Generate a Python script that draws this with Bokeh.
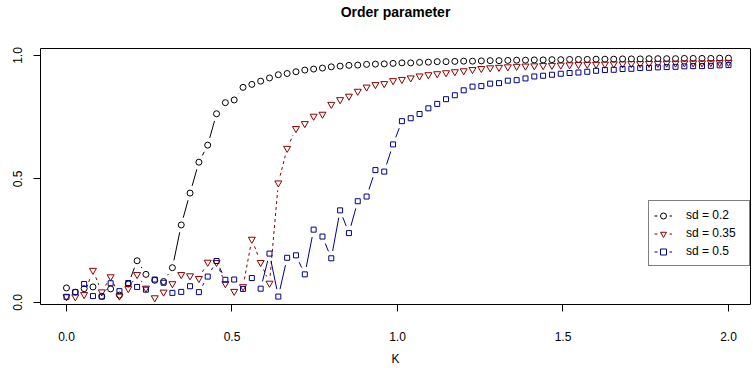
import math
import numpy as np
from bokeh.plotting import figure
from bokeh.models import Range1d, FixedTicker, Legend, LegendItem, ColumnDataSource, Title
from bokeh.embed import file_html
from bokeh.resources import INLINE

# ---------------- data ----------------
K = np.linspace(0, 2, 76)

sd_02 = [0.059, 0.042, 0.056, 0.063, 0.025, 0.055, 0.030, 0.075, 0.169, 0.114,
         0.090, 0.085, 0.141, 0.314, 0.443, 0.568, 0.637, 0.764, 0.809, 0.820,
         0.871, 0.883, 0.896, 0.909, 0.922, 0.927, 0.934, 0.941, 0.945, 0.949,
         0.954, 0.957, 0.960, 0.961, 0.964, 0.965, 0.966, 0.968, 0.970, 0.970,
         0.972, 0.973, 0.975, 0.975, 0.976, 0.977, 0.977, 0.978, 0.979, 0.979,
         0.980, 0.981, 0.981, 0.982, 0.982, 0.983, 0.983, 0.984, 0.984, 0.984,
         0.985, 0.985, 0.985, 0.986, 0.986, 0.986, 0.987, 0.987, 0.987, 0.987,
         0.988, 0.988, 0.988, 0.988, 0.989, 0.989]

sd_035 = [0.023, 0.023, 0.032, 0.130, 0.043, 0.104, 0.026, 0.056, 0.113, 0.058,
          0.019, 0.042, 0.076, 0.113, 0.108, 0.097, 0.163, 0.162, 0.076, 0.045,
          0.064, 0.256, 0.162, 0.078, 0.484, 0.624, 0.704, 0.724, 0.754, 0.762,
          0.802, 0.821, 0.835, 0.855, 0.872, 0.882, 0.886, 0.898, 0.903, 0.909,
          0.917, 0.922, 0.926, 0.930, 0.934, 0.938, 0.943, 0.947, 0.950, 0.952,
          0.954, 0.956, 0.957, 0.958, 0.959, 0.960, 0.961, 0.962, 0.963, 0.964,
          0.964, 0.965, 0.966, 0.966, 0.967, 0.967, 0.968, 0.968, 0.969, 0.969,
          0.970, 0.970, 0.970, 0.971, 0.971, 0.972]

sd_05 = [0.023, 0.042, 0.075, 0.026, 0.024, 0.078, 0.046, 0.079, 0.063, 0.052,
         0.093, 0.080, 0.039, 0.043, 0.066, 0.042, 0.105, 0.168, 0.092, 0.093,
         0.055, 0.099, 0.056, 0.198, 0.024, 0.181, 0.191, 0.114, 0.295, 0.267,
         0.179, 0.373, 0.281, 0.410, 0.429, 0.536, 0.530, 0.640, 0.734, 0.746,
         0.763, 0.786, 0.804, 0.823, 0.839, 0.859, 0.874, 0.876, 0.886, 0.888,
         0.898, 0.900, 0.907, 0.915, 0.918, 0.922, 0.926, 0.929, 0.931, 0.934,
         0.938, 0.941, 0.942, 0.945, 0.946, 0.949, 0.950, 0.952, 0.953, 0.954,
         0.956, 0.957, 0.957, 0.958, 0.960, 0.961]

series_labels = ["sd = 0.2", "sd = 0.35", "sd = 0.5"]
x_ticks = [0, 0.5, 1, 1.5, 2]
x_tick_labels = ["0.0", "0.5", "1.0", "1.5", "2.0"]
y_ticks = [0, 0.5, 1]
y_tick_labels = ["0.0", "0.5", "1.0"]
x_title = "K"
main_title = "Order parameter"

# ---------------- layout ----------------
W, H = 753, 368
BL, BR, BT, BB = 40, 3, 48, 63
FRAME_W = W - BL - BR
FRAME_H = H - BT - BB
X0 = -0.0785
X1 = X0 + FRAME_W / 331.0
PXY = 248.0
Y0 = -2.0 / PXY
Y1 = Y0 + FRAME_H / PXY
FONT = "Liberation Sans"

p = figure(width=W, height=H, output_backend="svg", toolbar_location=None,
           x_range=Range1d(X0, X1), y_range=Range1d(Y0, Y1),
           min_border_left=BL, min_border_right=BR,
           min_border_top=BT, min_border_bottom=BB,
           background_fill_color="white", border_fill_color="white")

p.title.text = main_title
p.title.text_font = FONT
p.title.text_font_size = "14px"
p.title.text_font_style = "bold"
p.title.text_color = "black"
p.title.align = "center"
p.title.vertical_align = "top"
p.title.standoff = 6

# blank spacer between the title and the frame (R puts the main title high in the margin)
p.add_layout(Title(text=" ", text_font=FONT, text_font_size="14px", standoff=6), "above")

p.grid.visible = False
p.outline_line_color = "black"
p.outline_line_width = 1
p.outline_line_alpha = 1

for ax in (p.xaxis[0], p.yaxis[0]):
    ax.axis_line_color = None
    ax.major_tick_line_color = "black"
    ax.major_tick_out = 7
    ax.major_tick_in = 0
    ax.minor_tick_line_color = None
    ax.major_label_text_font = FONT
    ax.major_label_text_font_size = "12px"
    ax.major_label_text_color = "black"

p.xaxis.ticker = FixedTicker(ticks=x_ticks)
p.xaxis.major_label_overrides = {t: l for t, l in zip(x_ticks, x_tick_labels)}
p.xaxis.major_label_standoff = 20
p.xaxis.axis_label = x_title
p.xaxis.axis_label_text_font = FONT
p.xaxis.axis_label_text_font_size = "12px"
p.xaxis.axis_label_text_font_style = "normal"
p.xaxis.axis_label_text_color = "black"
p.xaxis.axis_label_standoff = 8

p.yaxis.ticker = FixedTicker(ticks=y_ticks)
p.yaxis.major_label_overrides = {t: l for t, l in zip(y_ticks, y_tick_labels)}
p.yaxis.major_label_orientation = "vertical"
p.yaxis.major_label_standoff = 11

# R type="b": line segments stop short of the points
sy = FRAME_H / (Y1 - Y0)
sx = FRAME_W / (X1 - X0)
GAP = 7.5


def gapped(xs, ys):
    out = dict(x0=[], y0=[], x1=[], y1=[])
    for i in range(len(xs) - 1):
        ddx, ddy = xs[i + 1] - xs[i], ys[i + 1] - ys[i]
        L = math.hypot(ddx * sx, ddy * sy)
        if L > 2 * GAP:
            f = GAP / L
            out["x0"].append(xs[i] + f * ddx)
            out["y0"].append(ys[i] + f * ddy)
            out["x1"].append(xs[i + 1] - f * ddx)
            out["y1"].append(ys[i + 1] - f * ddy)
    return ColumnDataSource(out)


styles = [
    (sd_02, "black", "solid", "circle", 6),
    (sd_035, "#8B0000", "3 3", "inverted_triangle", 7),
    (sd_05, "#00008B", "solid", "square", 5),
]

items = []
for (vals, col, dash, marker, size), lab in zip(styles, series_labels):
    p.segment(x0="x0", y0="y0", x1="x1", y1="y1", source=gapped(list(K), vals),
              line_color=col, line_width=1, line_dash=dash)
    sr = p.scatter(x=K, y=vals, marker=marker, size=size, line_color=col,
                   line_width=1, fill_color=None)
    # legend-only line: "- o -" look of R's type="b" legend key
    lr = p.line(x=[np.nan], y=[np.nan], line_color=col, line_width=1, line_dash="3 12")
    items.append(LegendItem(label=lab, renderers=[lr, sr]))

legend = Legend(items=items, location=(608, 38), margin=0, padding=5, spacing=0,
                glyph_width=18, glyph_height=15, label_height=18, label_width=58,
                label_standoff=14, label_text_font=FONT, label_text_font_size="12px",
                label_text_color="black",
                border_line_color="black", border_line_width=1,
                background_fill_color="white", background_fill_alpha=1)
p.add_layout(legend)

open("out.html", "w").write(file_html(p, INLINE))
